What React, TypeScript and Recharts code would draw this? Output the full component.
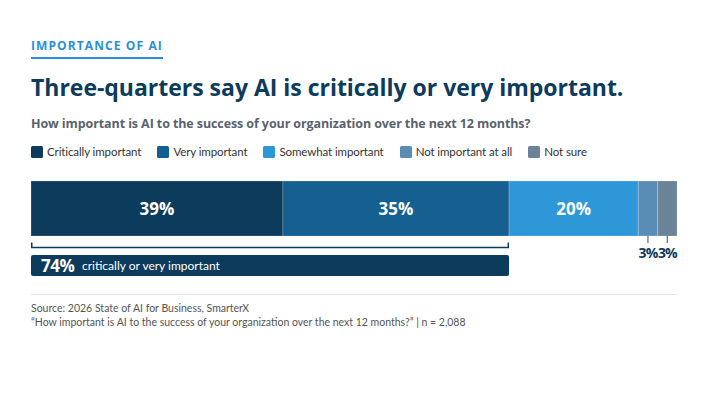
import { BarChart, Bar, XAxis, YAxis, LabelList } from "recharts";

// one stacked row of answers plus a summary row for the combined share
const rowNames = ["Responses", "Combined"];
const segmentNames = ["Critically important", "Very important", "Somewhat important", "Not important at all", "Not sure"];
const segmentShares = [39, 35, 20, 3, 3];
const segmentColors = ["#0d3b5c", "#155f91", "#2e97d8", "#5a8db6", "#6a8396"];
const combinedShare = 74;
const combinedText = "critically or very important";

const navy = "#0d3b5c";
const sans = "Lato, 'Noto Sans', sans-serif";
const heavy = "'Open Sans', Inter, sans-serif";

const data = [
  Object.fromEntries([["row", rowNames[0]], ...segmentShares.map((v, i) => [`s${i}`, v])]),
  { row: rowNames[1], total: combinedShare },
];

function SegmentLabel(props: any) {
  const { x, y, width, height, value } = props;
  if (value == null || !width) return null;
  const cx = x + width / 2;
  if (value >= 10) {
    return (
      <text x={cx} y={y + height / 2 + 6} textAnchor="middle" fill="#fff" fontSize={17} fontWeight={700} fontFamily={heavy}>
        {value}%
      </text>
    );
  }
  // small slices get a tick and a label under the bar
  return (
    <g>
      <line x1={cx} x2={cx} y1={y + height} y2={y + height + 7} stroke="#5a6e80" strokeWidth={1.2} />
      <text x={cx} y={y + height + 22} textAnchor="middle" fill={navy} fontSize={14} fontWeight={700} fontFamily={heavy} letterSpacing={-1}>
        {value}%
      </text>
    </g>
  );
}

function CombinedShape(props: any) {
  const { x, y, width, height, payload } = props;
  const value = payload?.total;
  if (!width || value == null) return null;
  const mid = y + height / 2;
  const top = mid - 10.5;
  const bracketY = mid - 18;
  return (
    <g>
      <path
        d={`M${x + 0.75},${bracketY - 5} V${bracketY} H${x + width - 0.75} V${bracketY - 5}`}
        fill="none"
        stroke={navy}
        strokeWidth={1.5}
      />
      <rect x={x} y={top} width={width} height={21} rx={2} fill={navy} />
      <text x={x + 10} y={mid + 6} fill="#fff" fontSize={17} fontWeight={700} fontFamily={heavy} letterSpacing={-0.5}>
        {value}%
      </text>
      <text x={x + 51} y={mid + 4.5} fill="#fff" fontSize={12} fontFamily={sans}>
        {combinedText}
      </text>
    </g>
  );
}

export default function App() {
  return (
    <div style={{ position: "absolute", left: 0, top: 0, width: 709, height: 393, background: "#fff", overflow: "hidden" }}>
      <div
        style={{
          position: "absolute",
          left: 31,
          top: 37,
          fontFamily: heavy,
          fontWeight: 700,
          fontSize: 12,
          letterSpacing: 1.1,
          color: "#2b8fd8",
          paddingBottom: 3,
          borderBottom: "2px solid #2b8fd8",
          whiteSpace: "nowrap",
        }}
      >
        IMPORTANCE OF AI
      </div>
      <div
        style={{
          position: "absolute",
          left: 31,
          top: 71,
          fontFamily: heavy,
          fontWeight: 700,
          fontSize: 23,
          letterSpacing: -0.02,
          color: navy,
          whiteSpace: "nowrap",
        }}
      >
        Three-quarters say AI is critically or very important.
      </div>
      <div
        style={{
          position: "absolute",
          left: 31,
          top: 115,
          fontFamily: heavy,
          fontWeight: 700,
          fontSize: 12.5,
          letterSpacing: -0.1,
          color: "#59636d",
          whiteSpace: "nowrap",
        }}
      >
        How important is AI to the success of your organization over the next 12 months?
      </div>
      <div
        style={{
          position: "absolute",
          left: 31,
          top: 145,
          display: "flex",
          alignItems: "center",
          fontFamily: sans,
          fontSize: 11.5,
          letterSpacing: -0.1,
          color: "#333",
          whiteSpace: "nowrap",
        }}
      >
        {segmentNames.map((name, i) => (
          <div key={name} style={{ display: "flex", alignItems: "center", marginRight: 16 }}>
            <span style={{ width: 12, height: 12, borderRadius: 1.5, background: segmentColors[i], marginRight: 4, display: "inline-block" }} />
            <span>{name}</span>
          </div>
        ))}
      </div>

      <div style={{ position: "absolute", left: 0, top: 0 }}>
        <BarChart
          width={709}
          height={393}
          data={data}
          layout="vertical"
          margin={{ top: 180, right: 32, bottom: 99, left: 31 }}
          barCategoryGap={0}
        >
          <XAxis type="number" domain={[0, 100]} hide />
          <YAxis type="category" dataKey="row" hide />
          {segmentNames.map((name, i) => (
            <Bar
              key={name}
              name={name}
              dataKey={`s${i}`}
              stackId="a"
              barSize={55}
              fill={segmentColors[i]}
              stroke="rgba(255,255,255,0.25)"
              strokeWidth={0.8}
              isAnimationActive={false}
            >
              <LabelList dataKey={`s${i}`} content={SegmentLabel} />
            </Bar>
          ))}
          <Bar dataKey="total" stackId="a" barSize={55} fill={navy} shape={CombinedShape} isAnimationActive={false} />
        </BarChart>
      </div>

      <div style={{ position: "absolute", left: 31, top: 294, width: 646, borderTop: "1px solid #e6e6e6" }} />
      <div style={{ position: "absolute", left: 31, top: 301, fontFamily: sans, fontSize: 10.5, color: "#555", lineHeight: "14px", whiteSpace: "nowrap" }}>
        <div>Source: 2026 State of AI for Business, SmarterX</div>
        <div>“How important is AI to the success of your organization over the next 12 months?” | n = 2,088</div>
      </div>
    </div>
  );
}
